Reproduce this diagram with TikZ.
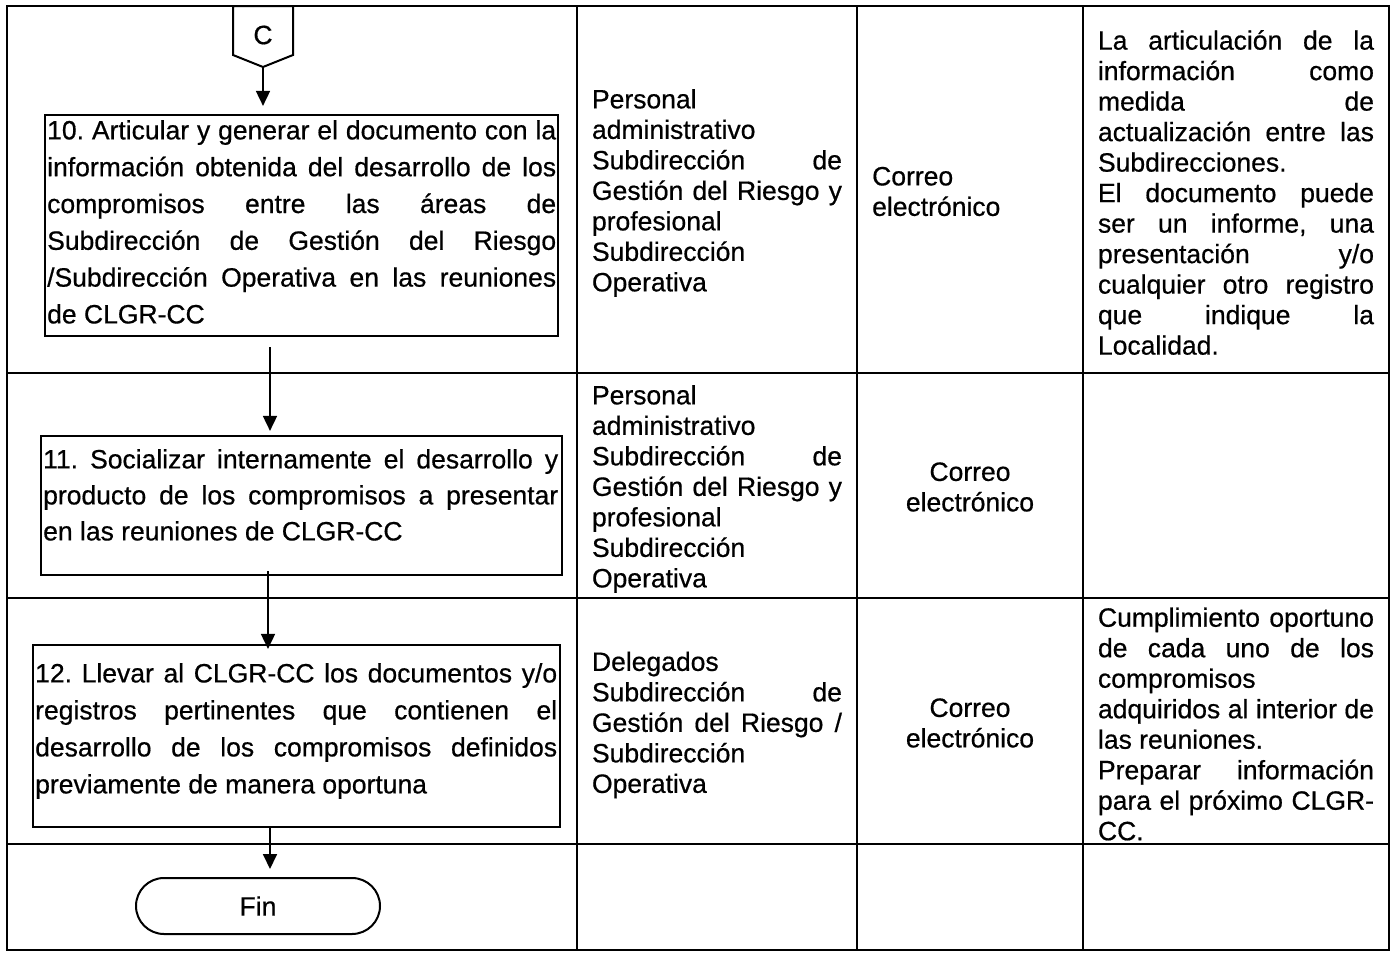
\documentclass[tikz,border=0pt]{standalone}
\usepackage{fontspec}
\setmainfont{Liberation Sans}[FakeBold=0.6]
\usetikzlibrary{arrows.meta}
\tolerance=10000 \hbadness=10000 \vbadness=10000
\exhyphenpenalty=10000 \hyphenpenalty=10000
\frenchspacing
\setlength{\parindent}{0pt}
\begin{document}
\begin{tikzpicture}[x=1pt,y=-1pt,
  tline/.style={line width=1.8pt},
  boxst/.style={draw,line width=2.2pt,inner sep=0pt},
  arr/.style={line width=1.8pt,-{Triangle[length=15pt,width=14pt]}},
  cell/.style={inner sep=0pt,font=\fontsize{26.5}{30.5}\selectfont},
  jcell/.style={cell,align=justify},
  boxtxt/.style={inner sep=0pt,align=justify,anchor=north west},
]
\useasboundingbox (0,0) rectangle (1397,953);
% table
\draw[tline] (7,6) rectangle (1389,950);
\draw[tline] (577,6) -- (577,950);
\draw[tline] (857,6) -- (857,950);
\draw[tline] (1083,6) -- (1083,950);
\draw[tline] (7,373) -- (1389,373);
\draw[tline] (7,598) -- (1389,598);
\draw[tline] (7,844) -- (1389,844);

% off-page connector C
\draw[line width=2pt,fill=white] (233,6) -- (293,6) -- (293,55) -- (263,67) -- (233,55) -- cycle;
\node[cell] (C) at (263,35) {C};
\coordinate (Cbot) at (263,67);

% process boxes
\node[boxst, minimum width=513pt, minimum height=221pt] (b10) at (301.5,225.5) {};
\node[boxst, minimum width=521pt, minimum height=139pt] (b11) at (301.5,505.5) {};
\node[boxst, minimum width=527pt, minimum height=182pt] (b12) at (296.5,736) {};
\node[draw,line width=2pt,rounded corners=28pt,minimum width=244pt,minimum height=56pt,inner sep=0pt,font=\fontsize{26.5}{30}\selectfont] (fin) at (258,906) {Fin};

\node[boxtxt, text width=509pt, font=\fontsize{26.5}{36.8}\selectfont] (t10) at (47,120)
 {10. Articular y generar el documento con la\linebreak
  información obtenida del desarrollo de los\linebreak
  compromisos entre las áreas de\linebreak
  Subdirección de Gestión del Riesgo\linebreak
  /Subdirección Operativa en las reuniones\linebreak
  de CLGR-CC};
\node[boxtxt, text width=515pt, font=\fontsize{26.5}{36}\selectfont] (t11) at (43,449)
 {11. Socializar internamente el desarrollo y\linebreak
  producto de los compromisos a presentar\linebreak
  en las reuniones de CLGR-CC};
\node[boxtxt, text width=522pt, font=\fontsize{26.5}{37}\selectfont] (t12) at (35,663)
 {12. Llevar al CLGR-CC los documentos y/o\linebreak
  registros pertinentes que contienen el\linebreak
  desarrollo de los compromisos definidos\linebreak
  previamente de manera oportuna};

% connectors
\coordinate (ax1) at (270,0);
\coordinate (ax2) at (268,0);
\coordinate (ax3) at (270,0);
\draw[arr, shorten >=8pt] (Cbot) -- (b10.north -| Cbot);
\draw[arr, shorten <=10pt, shorten >=4pt] (b10.south -| ax1) -- (b11.north -| ax1);
\draw[arr, shorten <=-5pt, shorten >=-5pt] (b11.south -| ax2) -- (b12.north -| ax2);
\draw[arr, shorten >=8pt] (b12.south -| ax3) -- (fin.north -| ax3);

% column 2
\node[jcell, text width=250pt] (r1c2) at (717,193)
 {Personal\linebreak administrativo\linebreak Subdirección de\linebreak Gestión del Riesgo y\linebreak profesional\linebreak Subdirección\linebreak Operativa};
\node[jcell, text width=250pt] (r2c2) at (717,489)
 {Personal\linebreak administrativo\linebreak Subdirección de\linebreak Gestión del Riesgo y\linebreak profesional\linebreak Subdirección\linebreak Operativa};
\node[jcell, text width=250pt] (r3c2) at (717,725)
 {Delegados\linebreak Subdirección de\linebreak Gestión del Riesgo /\linebreak Subdirección\linebreak Operativa};

% column 3
\node[cell, align=left, anchor=west] (r1c3) at (872,191.5) {Correo\\electrónico};
\node[cell, align=center] (r2c3) at (970,487) {Correo\\electrónico};
\node[cell, align=center] (r3c3) at (970,723) {Correo\\electrónico};

% column 4
\node[jcell, text width=276pt] (r1c4) at (1236,192.5)
 {La articulación de la\linebreak información como\linebreak medida de\linebreak actualización entre las\linebreak Subdirecciones.\newline
  El documento puede\linebreak ser un informe, una\linebreak presentación y/o\linebreak cualquier otro registro\linebreak que indique la\linebreak Localidad.};
\node[jcell, text width=276pt] (r3c4) at (1236,724)
 {Cumplimiento oportuno\linebreak de cada uno de los\linebreak compromisos\newline adquiridos al interior de\linebreak las reuniones.\newline
  Preparar información\linebreak para el próximo CLGR-\linebreak CC.};
\end{tikzpicture}
\end{document}
